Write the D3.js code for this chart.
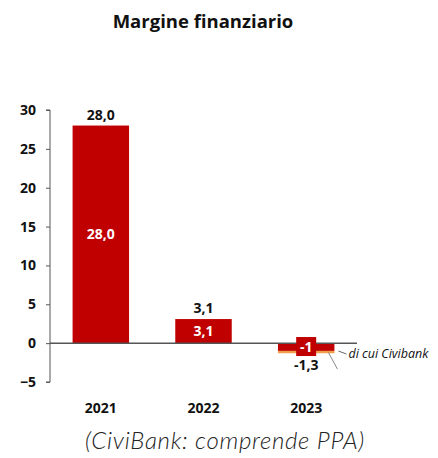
<!DOCTYPE html>
<html>
<head>
<meta charset="utf-8">
<script src="https://cdn.jsdelivr.net/npm/d3@7"></script>
<style>
  body { margin: 0; background: #fff; }
  svg { display: block; }
</style>
</head>
<body>
<svg id="chart" width="438" height="458"></svg>
<script>
  // data
  const years = ["2021", "2022", "2023"];
  const totals = [28.0, 3.1, -1.3];
  const mainPart = [28.0, 3.1, -1.0];
  const civibankPart = [0, 0, -0.3];
  const innerLabels = ["28,0", "3,1", "-1"];
  const topLabels = ["28,0", "3,1", "-1,3"];
  const yTicks = [-5, 0, 5, 10, 15, 20, 25, 30];

  const svg = d3.select("#chart");
  const RED = "#c00000";
  const ORANGE = "#f0a04b";
  const FONT = "'Open Sans', sans-serif";

  const y = d3.scaleLinear().domain([-5, 30]).range([382, 110]);
  const x = d3.scaleBand().domain(years).range([50, 357]).paddingInner(0.45).paddingOuter(0.22);

  // title
  svg.append("text")
    .attr("x", 203).attr("y", 28)
    .attr("text-anchor", "middle")
    .attr("font-family", FONT)
    .attr("font-weight", 700).attr("font-size", 18.5)
    .attr("fill", "#111")
    .text("Margine finanziario");

  // y axis
  const yAxis = d3.axisLeft(y).tickValues(yTicks).tickSize(4).tickPadding(10).tickFormat(d3.format("d"));
  const ga = svg.append("g").attr("transform", "translate(50,0)").call(yAxis);
  ga.select(".domain").attr("stroke", "#555").attr("d", `M-4,${y(-5)}H0V${y(30)}H-4`);
  ga.selectAll(".tick line").attr("stroke", "#555");
  ga.selectAll(".tick text")
    .attr("font-family", FONT)
    .attr("font-weight", 700).attr("font-size", 14)
    .attr("fill", "#111");

  // bars
  const bars = svg.append("g");
  years.forEach((yr, i) => {
    const v = mainPart[i];
    bars.append("rect")
      .attr("x", x(yr)).attr("width", x.bandwidth())
      .attr("y", y(Math.max(0, v))).attr("height", Math.abs(y(v) - y(0)))
      .attr("fill", RED);
    if (civibankPart[i] !== 0) {
      const c = civibankPart[i];
      bars.append("rect")
        .attr("x", x(yr)).attr("width", x.bandwidth())
        .attr("y", y(v)).attr("height", Math.abs(y(v + c) - y(v)))
        .attr("fill", ORANGE);
    }
  });

  // zero line
  svg.append("line")
    .attr("x1", 50).attr("x2", 357)
    .attr("y1", y(0)).attr("y2", y(0))
    .attr("stroke", "#555").attr("stroke-width", 1.5);

  // top labels
  years.forEach((yr, i) => {
    const v = totals[i];
    svg.append("text")
      .attr("x", x(yr) + x.bandwidth() / 2)
      .attr("y", v >= 0 ? y(v) - 6 : y(v) + 17)
      .attr("text-anchor", "middle")
      .attr("font-family", FONT)
      .attr("font-weight", 700).attr("font-size", 14)
      .attr("fill", "#111")
      .text(topLabels[i]);
  });

  // inner labels
  years.forEach((yr, i) => {
    const cx = x(yr) + x.bandwidth() / 2;
    const cy = y(mainPart[i] / 2);
    if (i === 2) {
      svg.append("rect")
        .attr("x", cx - 10).attr("y", cy - 10)
        .attr("width", 20).attr("height", 19)
        .attr("fill", RED);
    }
    svg.append("text")
      .attr("x", cx).attr("y", cy)
      .attr("dy", "0.35em")
      .attr("text-anchor", "middle")
      .attr("font-family", FONT)
      .attr("font-weight", 700).attr("font-size", 14)
      .attr("fill", "#fff")
      .text(innerLabels[i]);
  });

  // Civibank annotation
  const c23 = x("2023") + x.bandwidth();
  svg.append("line")
    .attr("x1", c23 - 6).attr("y1", y(-1.2))
    .attr("x2", c23 + 3).attr("y2", 369)
    .attr("stroke", "#888").attr("stroke-width", 1);
  svg.append("line")
    .attr("x1", c23 + 4).attr("y1", 351)
    .attr("x2", c23 + 12).attr("y2", 354)
    .attr("stroke", "#666").attr("stroke-width", 1);
  svg.append("text")
    .attr("x", c23 + 14).attr("y", 358)
    .attr("font-family", FONT)
    .attr("font-style", "italic").attr("font-size", 12.5)
    .attr("fill", "#111")
    .text("di cui Civibank");

  // x category labels
  years.forEach(yr => {
    svg.append("text")
      .attr("x", x(yr) + x.bandwidth() / 2).attr("y", 413)
      .attr("text-anchor", "middle")
      .attr("font-family", FONT)
      .attr("font-weight", 700).attr("font-size", 14)
      .attr("fill", "#111")
      .text(yr);
  });

  // footer
  svg.append("text")
    .attr("x", 225).attr("y", 449)
    .attr("text-anchor", "middle")
    .attr("font-family", "Lato, 'Open Sans', sans-serif")
    .attr("font-style", "italic").attr("font-weight", 300).attr("font-size", 24)
    .attr("letter-spacing", 0.7)
    .attr("fill", "#222")
    .text("(CiviBank: comprende PPA)");
</script>
</body>
</html>
